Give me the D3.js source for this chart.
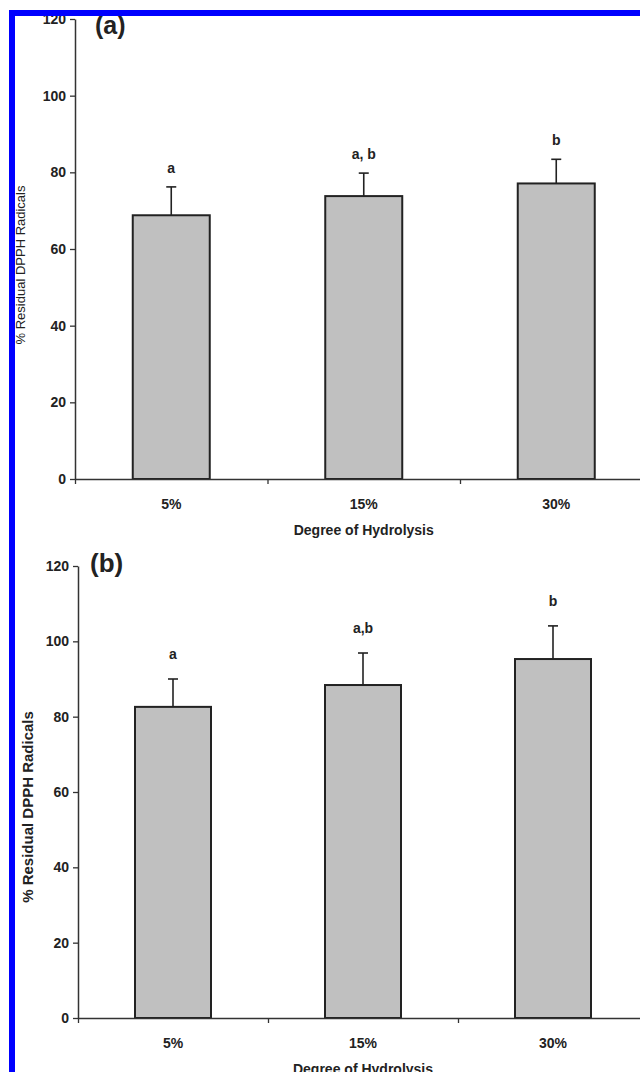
<!DOCTYPE html>
<html>
<head>
<meta charset="utf-8">
<script src="https://cdn.jsdelivr.net/npm/d3@7"></script>
<style>
  body { margin: 0; background: #fff; }
  text { font-family: "Liberation Sans", Arial, sans-serif; fill: #222; }
</style>
</head>
<body>
<div id="chart"></div>
<script>
// values
const categories = ['5%', '15%', '30%'];
const yTicks = [0, 20, 40, 60, 80, 100, 120];

const meansA = [68.8, 73.8, 77.1];
const errorsA = [7.4, 6.0, 6.3];
const lettersA = ['a', 'a, b', 'b'];

const meansB = [82.6, 88.4, 95.3];
const errorsB = [7.4, 8.5, 8.8];
const lettersB = ['a', 'a,b', 'b'];

const width = 640;
const height = 1072;

const svg = d3.select('#chart').append('svg')
  .attr('width', width)
  .attr('height', height)
  .style('display', 'block');

const panels = [
  {
    tag: '(a)', means: meansA, errors: errorsA, letters: lettersA,
    left: 75, top: 19, bottom: 479, step: 192.5, letterGap: 19,
    tagX: 95, tagY: 34, tagSize: 25,
    yLabelX: 20, yLabelY: 265, yLabelSize: 13, yLabelWeight: 'normal'
  },
  {
    tag: '(b)', means: meansB, errors: errorsB, letters: lettersB,
    left: 78, top: 566, bottom: 1018, step: 190, letterGap: 25,
    tagX: 90, tagY: 572, tagSize: 26,
    yLabelX: 28, yLabelY: 807, yLabelSize: 15, yLabelWeight: 'bold'
  }
];

function drawPanel(p) {
  const g = svg.append('g');
  const right = p.left + categories.length * p.step;

  const y = d3.scaleLinear().domain([0, 120]).range([p.bottom, p.top]);
  const x = d3.scaleBand()
    .domain(categories)
    .range([p.left, right])
    .paddingInner(0.6)
    .paddingOuter(0.3);
  const xEdges = d3.scaleLinear().domain([0, categories.length]).range([p.left, right]);

  const rows = categories.map((c, i) => ({ c, m: p.means[i], e: p.errors[i], l: p.letters[i] }));

  // bars
  g.selectAll('rect.bar')
    .data(rows)
    .enter().append('rect')
    .attr('class', 'bar')
    .attr('x', d => x(d.c))
    .attr('y', d => y(d.m))
    .attr('width', x.bandwidth())
    .attr('height', d => y(0) - y(d.m))
    .style('fill', '#c0c0c0')
    .attr('stroke', '#222')
    .attr('stroke-width', 2);

  // error bars (upper only)
  const cx = d => x(d.c) + x.bandwidth() / 2;
  g.selectAll('line.err')
    .data(rows)
    .enter().append('line')
    .attr('x1', cx).attr('x2', cx)
    .attr('y1', d => y(d.m)).attr('y2', d => y(d.m + d.e))
    .attr('stroke', '#222').attr('stroke-width', 1.6);
  g.selectAll('line.cap')
    .data(rows)
    .enter().append('line')
    .attr('x1', d => cx(d) - 5).attr('x2', d => cx(d) + 5)
    .attr('y1', d => y(d.m + d.e)).attr('y2', d => y(d.m + d.e))
    .attr('stroke', '#222').attr('stroke-width', 1.6);

  // significance letters
  g.selectAll('text.letter')
    .data(rows)
    .enter().append('text')
    .attr('x', cx)
    .attr('y', d => y(d.m + d.e) - p.letterGap + 5)
    .attr('text-anchor', 'middle')
    .style('font-size', '14px')
    .style('font-weight', 'bold')
    .text(d => d.l);

  // y axis
  const yAxis = g.append('g')
    .attr('transform', `translate(${p.left},0)`)
    .call(d3.axisLeft(y).tickValues(yTicks).tickSize(5).tickSizeOuter(0).tickPadding(4));
  yAxis.select('.domain').attr('stroke', '#333').attr('stroke-width', 1.5);
  yAxis.selectAll('.tick line').attr('stroke', '#333').attr('stroke-width', 1.3);
  yAxis.selectAll('.tick text')
    .style('font-size', '14px')
    .style('font-weight', 'bold')
    .style('font-family', '"Liberation Sans", Arial, sans-serif')
    .attr('fill', '#222');

  // x axis with ticks between categories
  const xAxis = g.append('g')
    .attr('transform', `translate(0,${y(0)})`)
    .call(d3.axisBottom(xEdges).tickValues(d3.range(categories.length + 1)).tickSize(5).tickSizeOuter(0).tickFormat(''));
  xAxis.select('.domain').attr('stroke', '#333').attr('stroke-width', 1.5);
  xAxis.selectAll('.tick line').attr('stroke', '#333').attr('stroke-width', 1.3);

  g.selectAll('text.cat')
    .data(categories)
    .enter().append('text')
    .attr('x', d => x(d) + x.bandwidth() / 2)
    .attr('y', y(0) + 30)
    .attr('text-anchor', 'middle')
    .style('font-size', '14px')
    .style('font-weight', 'bold')
    .text(d => d);

  g.append('text')
    .attr('x', xEdges(categories.length / 2))
    .attr('y', y(0) + 56)
    .attr('text-anchor', 'middle')
    .style('font-size', '14px')
    .style('font-weight', 'bold')
    .text('Degree of Hydrolysis');

  g.append('text')
    .attr('transform', `translate(${p.yLabelX},${p.yLabelY}) rotate(-90)`)
    .attr('text-anchor', 'middle')
    .attr('dy', '0.35em')
    .style('font-size', p.yLabelSize + 'px')
    .style('font-weight', p.yLabelWeight)
    .text('% Residual DPPH Radicals');

  g.append('text')
    .attr('x', p.tagX)
    .attr('y', p.tagY)
    .style('font-size', p.tagSize + 'px')
    .style('font-weight', 'bold')
    .text(p.tag);
}

panels.forEach(drawPanel);

// blue frame on the top and left edges
svg.append('rect').attr('x', 9).attr('y', 10).attr('width', width - 9).attr('height', 6).style('fill', '#0000ff');
svg.append('rect').attr('x', 9).attr('y', 10).attr('width', 6).attr('height', height - 10).style('fill', '#0000ff');
svg.append('rect').attr('x', 0).attr('y', 0).attr('width', width).attr('height', 10).style('fill', '#fff');
</script>
</body>
</html>
